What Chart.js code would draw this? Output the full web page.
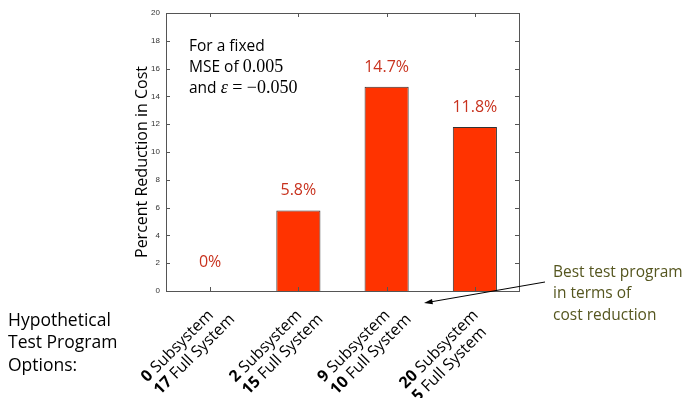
<!DOCTYPE html>
<html>
<head>
<meta charset="utf-8">
<script src="https://cdn.jsdelivr.net/npm/chart.js@4"></script>
<style>
  body { margin: 0; background: #fff; }
  canvas { display: block; }
</style>
</head>
<body>
<canvas id="costChart" width="683" height="398"></canvas>
<script>
// Data
const subsystemCounts = [0, 2, 9, 20];
const fullSystemCounts = [17, 15, 10, 5];
const costReduction = [0, 5.8, 14.7, 11.8];
const yTickValues = [0, 2, 4, 6, 8, 10, 12, 14, 16, 18, 20];

const categories = subsystemCounts.map((s, i) => s + ' Subsystem / ' + fullSystemCounts[i] + ' Full System');
const valueLabels = costReduction.map(v => v + '%');

const SANS = '"Open Sans", "Noto Sans", sans-serif';
const SERIF = '"Liberation Serif", "DejaVu Serif", serif';

// Draws the MATLAB-style box, labels and notes
const decorations = {
    id: 'decorations',
    afterDraw(chart) {
        const ctx = chart.ctx;
        const area = chart.chartArea;
        const xs = chart.scales.x;
        const ys = chart.scales.y;
        ctx.save();

        // axes box with inward ticks
        ctx.strokeStyle = '#555';
        ctx.lineWidth = 1;
        ctx.strokeRect(Math.round(area.left) + 0.5, Math.round(area.top) + 0.5,
            Math.round(area.right - area.left), Math.round(area.bottom - area.top));
        ctx.beginPath();
        categories.forEach((c, i) => {
            const px = Math.round(xs.getPixelForValue(i)) + 0.5;
            ctx.moveTo(px, area.bottom); ctx.lineTo(px, area.bottom - 4);
            ctx.moveTo(px, area.top); ctx.lineTo(px, area.top + 4);
        });
        yTickValues.forEach(v => {
            const py = Math.round(ys.getPixelForValue(v)) + 0.5;
            ctx.moveTo(area.left, py); ctx.lineTo(area.left + 4, py);
            ctx.moveTo(area.right, py); ctx.lineTo(area.right - 4, py);
        });
        ctx.stroke();

        // value labels above the bars
        ctx.fillStyle = '#C8321E';
        ctx.font = '16px ' + SANS;
        ctx.textAlign = 'center';
        ctx.textBaseline = 'alphabetic';
        const zeroPx = ys.getPixelForValue(0);
        costReduction.forEach((v, i) => {
            const px = xs.getPixelForValue(i);
            const top = ys.getPixelForValue(v);
            ctx.fillText(valueLabels[i], px, Math.min(top - 15, zeroPx - 24));
        });

        // rotated two-line category labels
        ctx.fillStyle = '#000';
        subsystemCounts.forEach((s, i) => {
            const px = xs.getPixelForValue(i);
            ctx.save();
            ctx.translate(px + 4, area.bottom + 25);
            ctx.rotate(-Math.PI / 4);
            ctx.textAlign = 'left';
            const bold = 'bold 16px ' + SANS;
            const reg = '16px ' + SANS;
            const l1a = String(s), l1b = ' Subsystem';
            ctx.font = bold; const w1a = ctx.measureText(l1a).width;
            ctx.font = reg; const w1b = ctx.measureText(l1b).width;
            const w1 = w1a + w1b;
            ctx.font = bold; ctx.fillText(l1a, -w1, 0);
            ctx.font = reg; ctx.fillText(l1b, -w1 + w1a, 0);
            const l2a = String(fullSystemCounts[i]), l2b = ' Full System';
            ctx.font = bold; const w2a = ctx.measureText(l2a).width;
            ctx.fillText(l2a, -w1, 18);
            ctx.font = reg; ctx.fillText(l2b, -w1 + w2a, 18);
            ctx.restore();
        });

        // y axis title
        ctx.save();
        ctx.translate(147, 162);
        ctx.rotate(-Math.PI / 2);
        ctx.textAlign = 'center';
        ctx.font = '16px ' + SANS;
        ctx.fillStyle = '#000';
        ctx.fillText('Percent Reduction in Cost', 0, 0);
        ctx.restore();

        // note inside the axes
        ctx.textAlign = 'left';
        ctx.fillStyle = '#000';
        const noteX = 189;
        ctx.font = '15.5px ' + SANS;
        ctx.fillText('For a fixed', noteX, 51);
        ctx.fillText('MSE of ', noteX, 72);
        let off = ctx.measureText('MSE of ').width;
        ctx.font = '18px ' + SERIF;
        ctx.fillText('0.005', noteX + off, 72);
        ctx.font = '15.5px ' + SANS;
        ctx.fillText('and ', noteX, 93);
        off = ctx.measureText('and ').width;
        ctx.font = 'italic 18px ' + SERIF;
        ctx.fillText('\u03b5', noteX + off, 93);
        off += ctx.measureText('\u03b5').width;
        ctx.font = '18px ' + SERIF;
        ctx.fillText(' = \u22120.050', noteX + off, 93);

        // left caption
        ctx.font = '17.5px ' + SANS;
        ctx.fillText('Hypothetical', 8, 326);
        ctx.fillText('Test Program', 8, 348);
        ctx.fillText('Options:', 8, 371);

        // right caption with arrow
        ctx.fillStyle = '#55561F';
        ctx.font = '15.5px ' + SANS;
        ctx.fillText('Best test program', 553, 277);
        ctx.fillText('in terms of', 553, 298);
        ctx.fillText('cost reduction', 553, 320);

        ctx.strokeStyle = '#000';
        ctx.fillStyle = '#000';
        ctx.beginPath();
        ctx.moveTo(545, 282);
        ctx.lineTo(430, 302);
        ctx.stroke();
        const ang = Math.atan2(302 - 282, 430 - 545);
        ctx.beginPath();
        ctx.moveTo(424, 303);
        ctx.lineTo(424 - 9 * Math.cos(ang - 0.3), 303 - 9 * Math.sin(ang - 0.3));
        ctx.lineTo(424 - 9 * Math.cos(ang + 0.3), 303 - 9 * Math.sin(ang + 0.3));
        ctx.closePath();
        ctx.fill();

        ctx.restore();
    }
};

new Chart(document.getElementById('costChart'), {
    type: 'bar',
    data: {
        labels: categories,
        datasets: [{
            data: costReduction,
            backgroundColor: '#FF3300',
            borderColor: '#333333',
            borderWidth: 1,
            barPercentage: 0.5,
            categoryPercentage: 1
        }]
    },
    options: {
        responsive: false,
        animation: false,
        layout: { padding: { top: 13, right: 164, left: 0, bottom: 0 } },
        plugins: {
            legend: { display: false },
            tooltip: { enabled: false }
        },
        scales: {
            x: {
                grid: { display: false },
                border: { display: false },
                ticks: { display: false },
                afterFit: scale => { scale.height = 107; }
            },
            y: {
                min: 0,
                max: 20,
                grid: { display: false, drawTicks: false },
                border: { display: false },
                ticks: {
                    stepSize: 2,
                    padding: 6,
                    color: '#333',
                    font: { family: '"Liberation Sans", Arial, sans-serif', size: 8 }
                },
                afterFit: scale => { scale.width = 166; }
            }
        }
    },
    plugins: [decorations]
});
</script>
</body>
</html>
